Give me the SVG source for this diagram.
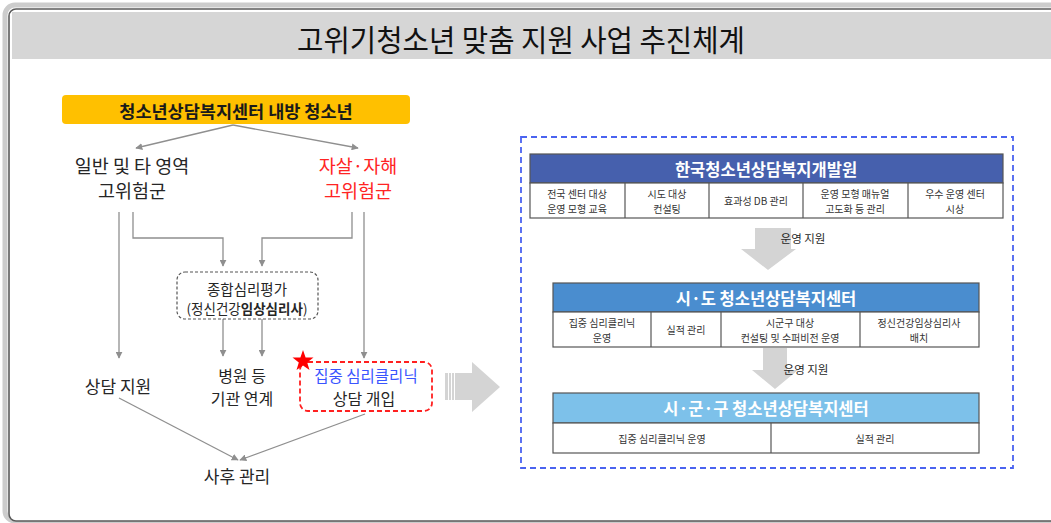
<svg xmlns="http://www.w3.org/2000/svg" width="1051" height="523" viewBox="0 0 1051 523">
<style>
  text { font-family: "Noto Sans CJK KR", "Noto Sans", sans-serif; text-anchor: middle; dominant-baseline: central; fill: #262626; }
  .conn { stroke: #8f8f8f; stroke-width: 1.3; fill: none; }
  .lbl { font-size: 17px; }
  .lbl2 { font-size: 16px; }
  .cell { font-size: 10px; fill: #333; }
  .hdr { font-size: 16.5px; font-weight: bold; fill: #ffffff; }
  .red { fill: #FF2424; }
  .blue { fill: #3a55ff; }
  .tbl { fill: #ffffff; stroke: #555; stroke-width: 1.2; }
  .div { stroke: #555; stroke-width: 1.2; }
  .garrow { fill: #d4d4d4; }
</style>
<defs>
  <marker id="ah" viewBox="0 0 10 10" refX="9" refY="5" markerWidth="7" markerHeight="7" orient="auto" markerUnits="userSpaceOnUse">
    <path d="M0,0 L10,5 L0,10 z" fill="#8f8f8f"/>
  </marker>
</defs>
<rect x="0" y="0" width="1051" height="523" fill="#ffffff"/>
<g id="frame">
  <rect x="5" y="5" width="1100" height="516" rx="10" fill="none" stroke="#cccccc" stroke-width="5"/>
  <rect x="9" y="9" width="1100" height="512" rx="7" fill="#ffffff" stroke="#5a5a5a" stroke-width="1.6"/>
  <rect x="12" y="12" width="1039" height="47" fill="#d6d6d6"/>
  <text x="521" y="38" font-size="30" textLength="448" lengthAdjust="spacingAndGlyphs" style="fill:#111">고위기청소년 맞춤 지원 사업 추진체계</text>
</g>

<g id="connectors">
  <line class="conn" x1="233" y1="125" x2="136" y2="148" marker-end="url(#ah)"/>
  <line class="conn" x1="233" y1="125" x2="358" y2="148" marker-end="url(#ah)"/>
  <line class="conn" x1="119" y1="212" x2="119" y2="358" marker-end="url(#ah)"/>
  <polyline class="conn" points="133,212 133,238 223,238 223,266" marker-end="url(#ah)"/>
  <polyline class="conn" points="352,212 352,238 262,238 262,266" marker-end="url(#ah)"/>
  <line class="conn" x1="364" y1="212" x2="364" y2="358" marker-end="url(#ah)"/>
  <line class="conn" x1="223" y1="319" x2="223" y2="356" marker-end="url(#ah)"/>
  <line class="conn" x1="262" y1="319" x2="262" y2="356" marker-end="url(#ah)"/>
  <line class="conn" x1="119" y1="398" x2="238" y2="460" marker-end="url(#ah)"/>
  <line class="conn" x1="365" y1="414" x2="240" y2="460" marker-end="url(#ah)"/>
</g>

<g id="n-top">
  <rect x="62" y="95" width="348" height="29" rx="4" fill="#FFC000"/>
  <text x="236" y="110" font-size="17.5" font-weight="bold" style="fill:#1a1a1a">청소년상담복지센터 내방 청소년</text>
</g>
<g id="n-general">
  <text x="132" y="165" font-size="18.5">일반 및 타 영역</text>
  <text x="132" y="190" font-size="18.5">고위험군</text>
</g>
<g id="n-suicide">
  <text x="358" y="165" font-size="18.5" class="red">자살·자해</text>
  <text x="358" y="190" font-size="18.5" class="red">고위험군</text>
</g>
<g id="n-assess">
  <rect x="177" y="272" width="141" height="47" rx="8" fill="#ffffff" stroke="#555" stroke-width="1.2" stroke-dasharray="3,2"/>
  <text x="247" y="288" font-size="14.5">종합심리평가</text>
  <text x="247" y="308" font-size="13.5">(정신건강<tspan font-weight="bold">임상심리사</tspan>)</text>
</g>
<g id="n-counsel">
  <text x="118" y="385" class="lbl">상담 지원</text>
</g>
<g id="n-hospital">
  <text x="242" y="375" class="lbl2">병원 등</text>
  <text x="242" y="398" class="lbl2">기관 연계</text>
</g>
<g id="n-clinic">
  <rect x="300" y="362" width="132" height="49" rx="8" fill="#ffffff" stroke="#FF2020" stroke-width="1.8" stroke-dasharray="5,3"/>
  <text x="366" y="375" font-size="15.5" class="blue">집중 심리클리닉</text>
  <text x="364" y="398" class="lbl2">상담 개입</text>
  <polygon points="303,350 305.6,357.4 313.5,357.6 307.2,362.4 309.5,370 303,365.5 296.5,370 298.8,362.4 292.5,357.6 300.4,357.4" fill="#FF0000"/>
</g>
<g id="n-after">
  <text x="237" y="475" class="lbl">사후 관리</text>
</g>

<g id="big-arrow">
  <polygon class="garrow" points="445,373 472,373 472,362 500,387 472,412 472,400 445,400"/>
  <line x1="448.5" y1="373" x2="448.5" y2="400" stroke="#ffffff" stroke-width="1"/>
  <line x1="451.5" y1="373" x2="451.5" y2="400" stroke="#ffffff" stroke-width="1"/>
  <line x1="454.5" y1="373" x2="454.5" y2="400" stroke="#ffffff" stroke-width="1"/>
</g>

<g id="system">
  <rect x="521" y="137" width="492" height="331" fill="none" stroke="#4a63f0" stroke-width="1.8" stroke-dasharray="6,4"/>
</g>

<g id="n-kyci">
  <rect x="530" y="154" width="473" height="29" fill="#4660AD" stroke="#555" stroke-width="1.2"/>
  <text x="766" y="169" class="hdr">한국청소년상담복지개발원</text>
  <rect x="530" y="183" width="473" height="35" class="tbl"/>
  <line x1="625" y1="183" x2="625" y2="218" class="div"/>
  <line x1="709" y1="183" x2="709" y2="218" class="div"/>
  <line x1="803" y1="183" x2="803" y2="218" class="div"/>
  <line x1="908" y1="183" x2="908" y2="218" class="div"/>
  <text x="577" y="193" class="cell">전국 센터 대상</text>
  <text x="577" y="208" class="cell">운영 모형 교육</text>
  <text x="667" y="193" class="cell">시도 대상</text>
  <text x="667" y="208" class="cell">컨설팅</text>
  <text x="756" y="200" class="cell">효과성 DB 관리</text>
  <text x="855" y="193" class="cell">운영 모형 매뉴얼</text>
  <text x="855" y="208" class="cell">고도화 등 관리</text>
  <text x="955" y="193" class="cell">우수 운영 센터</text>
  <text x="955" y="208" class="cell">시상</text>
</g>

<g id="arrow-support-1">
  <polygon class="garrow" points="755,228 791,228 791,249 796,249 768,270 741,249 755,249"/>
  <text x="803" y="238" font-size="11.5">운영 지원</text>
</g>

<g id="n-sido">
  <rect x="553" y="283" width="426" height="29" fill="#4A8DCF" stroke="#555" stroke-width="1.2"/>
  <text x="766" y="298" class="hdr">시·도 청소년상담복지센터</text>
  <rect x="553" y="312" width="426" height="35" class="tbl"/>
  <line x1="651" y1="312" x2="651" y2="347" class="div"/>
  <line x1="721" y1="312" x2="721" y2="347" class="div"/>
  <line x1="860" y1="312" x2="860" y2="347" class="div"/>
  <text x="602" y="322" class="cell">집중 심리클리닉</text>
  <text x="602" y="337" class="cell">운영</text>
  <text x="686" y="329" class="cell">실적 관리</text>
  <text x="790" y="322" class="cell">시군구 대상</text>
  <text x="790" y="337" class="cell">컨설팅 및 수퍼비전 운영</text>
  <text x="919" y="322" class="cell">정신건강임상심리사</text>
  <text x="919" y="337" class="cell">배치</text>
</g>

<g id="arrow-support-2">
  <polygon class="garrow" points="763,348 787,348 787,370 798,370 775,389 752,370 763,370"/>
  <text x="806" y="369" font-size="11.5">운영 지원</text>
</g>

<g id="n-sigungu">
  <rect x="553" y="393" width="426" height="30" fill="#7DC1EA" stroke="#555" stroke-width="1.2"/>
  <text x="766" y="408" class="hdr">시·군·구 청소년상담복지센터</text>
  <rect x="553" y="423" width="426" height="30" class="tbl"/>
  <line x1="771" y1="423" x2="771" y2="453" class="div"/>
  <text x="662" y="438" class="cell">집중 심리클리닉 운영</text>
  <text x="875" y="438" class="cell">실적 관리</text>
</g>
</svg>
